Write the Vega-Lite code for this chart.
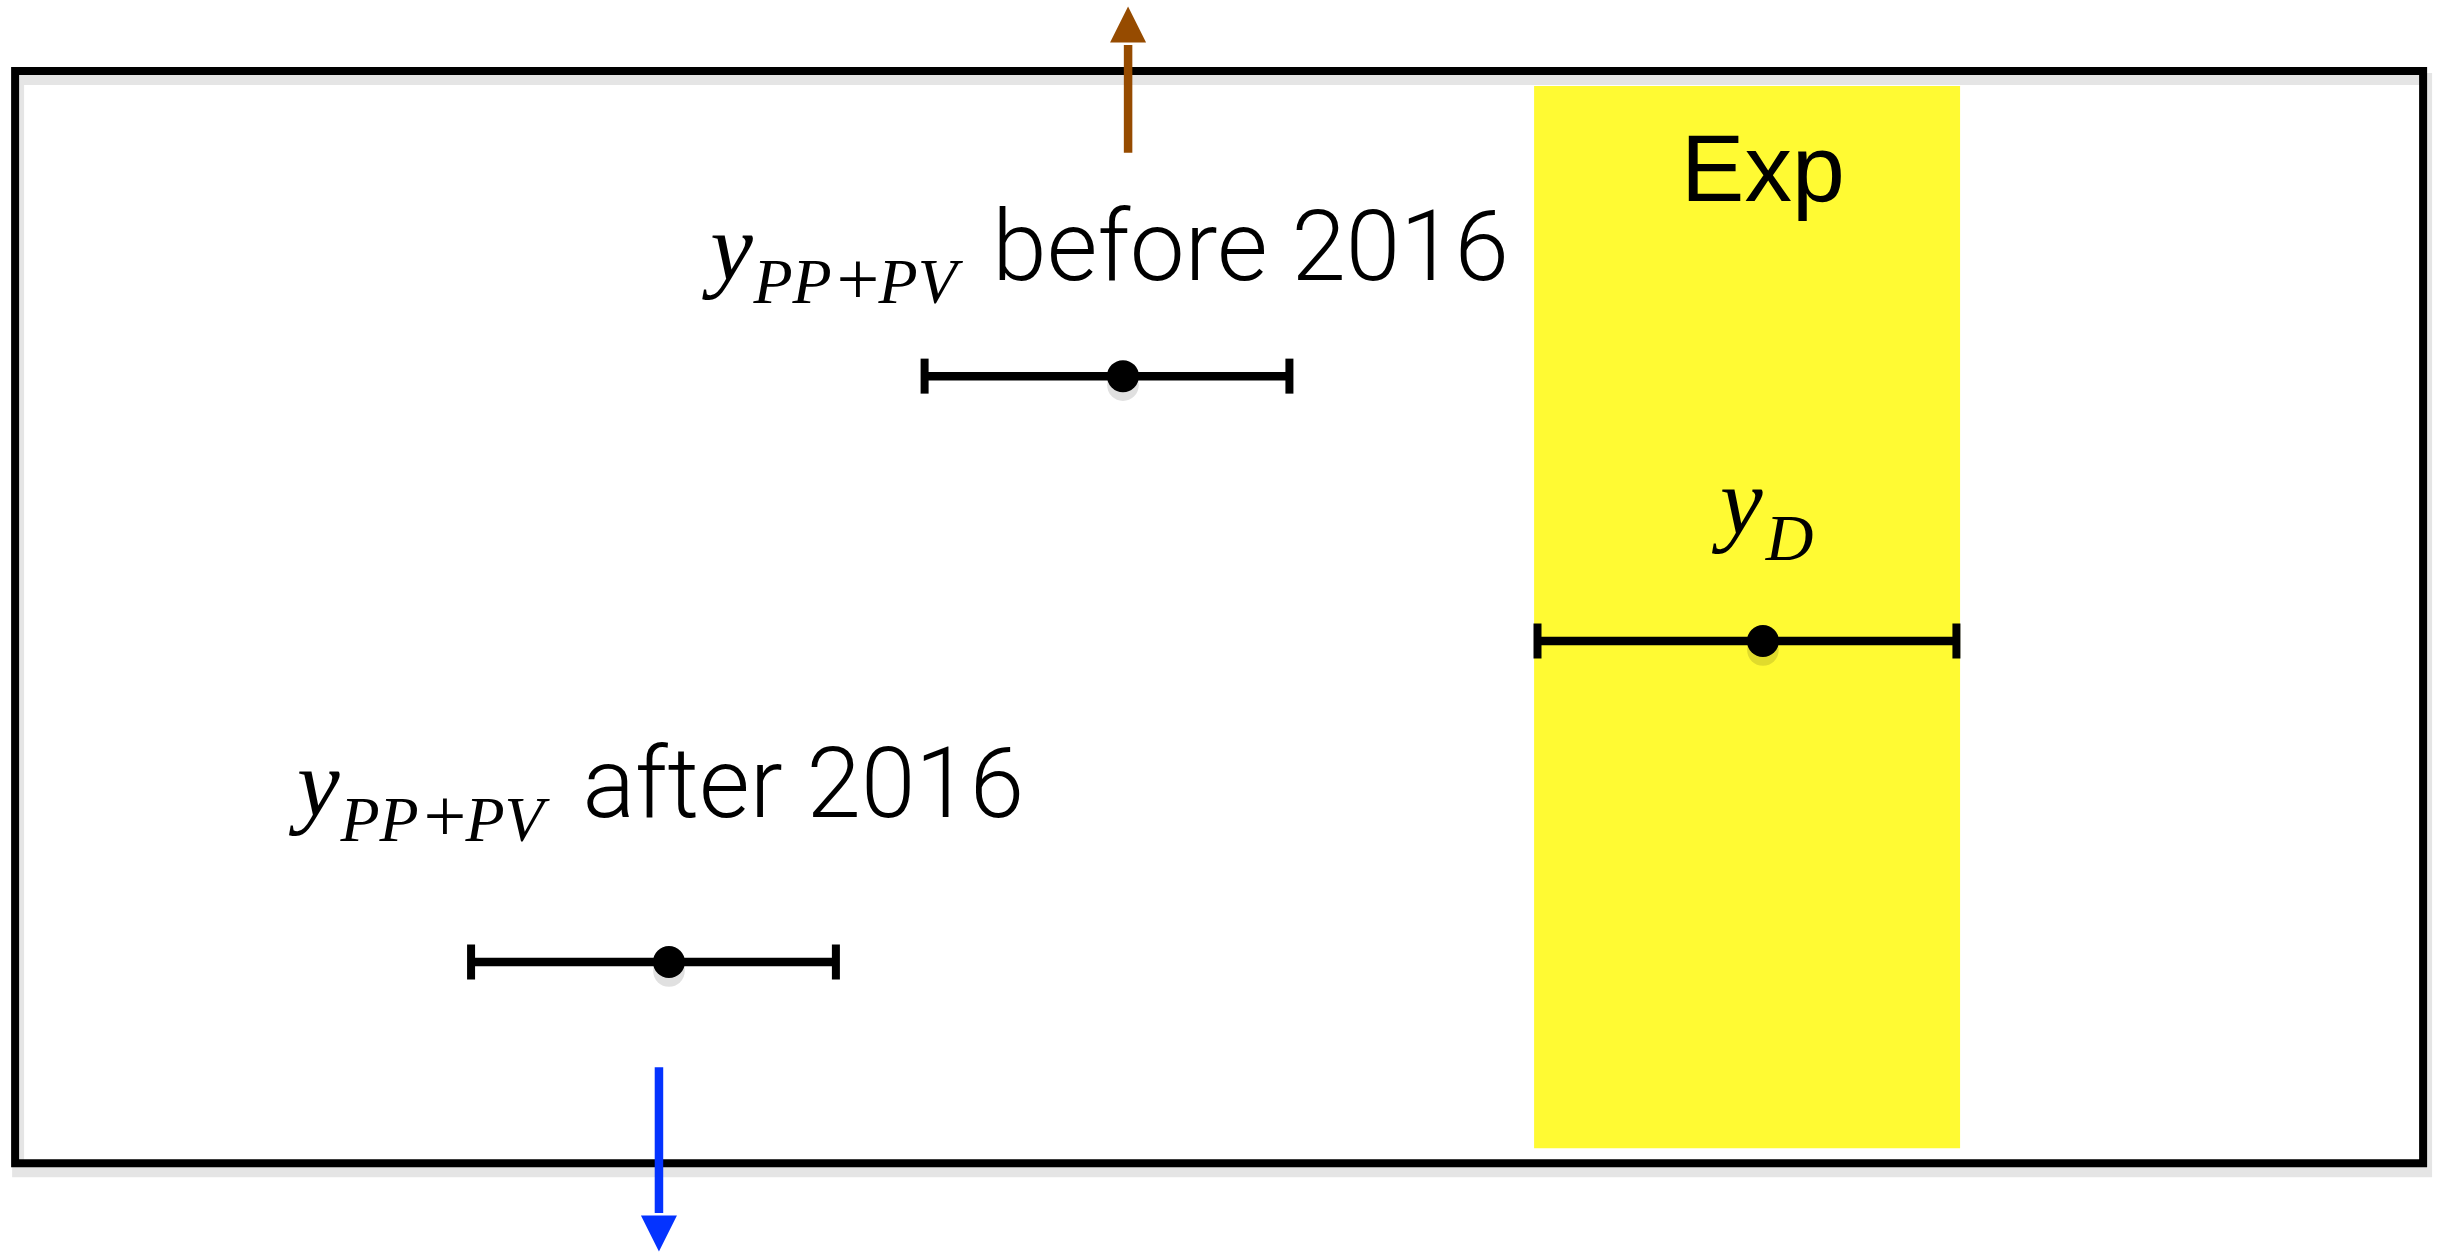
{
  "$schema": "https://vega.github.io/schema/vega-lite/v6.json",
  "width": 2437,
  "height": 1252,
  "autosize": {"type": "fit", "contains": "padding"},
  "padding": 0,
  "background": "white",
  "config": {"view": {"stroke": null}},
  "datasets": {
    "band": [{"name": "Exp", "x": 62.95, "x2": 80.43, "y": 93.13, "y2": 8.15}],
    "frame": [{"x": 0.62, "x2": 99.43, "y": 94.33, "y2": 6.95}],
    "bars": [
      {"label": "before 2016", "lo": 37.94, "hi": 52.91, "mid": 46.08, "y": 69.91},
      {"label": "D", "lo": 63.09, "hi": 80.28, "mid": 72.34, "y": 48.72},
      {"label": "after 2016", "lo": 19.33, "hi": 34.30, "mid": 27.45, "y": 23.04}
    ],
    "arrows": [
      {"dir": "up", "x": 46.29, "base": 87.78, "head": 96.41, "headMid": 98.04},
      {"dir": "down", "x": 27.04, "base": 14.62, "head": 2.96, "headMid": 1.32}
    ],
    "labels": [
      {"role": "sym", "x": 29.14, "y": 77.64, "text": "y"},
      {"role": "sub", "x": 30.92, "y": 75.80, "text": "PP"},
      {"role": "op", "x": 35.20, "y": 75.72, "text": "+"},
      {"role": "sub", "x": 36.05, "y": 75.80, "text": "PV"},
      {"role": "word", "x": 40.72, "y": 77.64, "text": "before 2016"},
      {"role": "sym", "x": 12.19, "y": 34.74, "text": "y"},
      {"role": "sub", "x": 13.97, "y": 32.75, "text": "PP"},
      {"role": "op", "x": 18.26, "y": 32.75, "text": "+"},
      {"role": "sub", "x": 19.10, "y": 32.75, "text": "PV"},
      {"role": "word", "x": 23.90, "y": 34.66, "text": "after 2016"},
      {"role": "sym", "x": 70.58, "y": 57.27, "text": "y"},
      {"role": "subD", "x": 72.46, "y": 55.19, "text": "D"},
      {"role": "title", "x": 72.34, "y": 83.95, "text": "Exp"}
    ]
  },
  "layer": [
    {
      "data": {"name": "band"},
      "mark": {"type": "rect", "fill": "#FFFA33"},
      "encoding": {
        "x": {"field": "x", "type": "quantitative", "scale": {"domain": [0, 100], "nice": false, "zero": false}, "axis": null},
        "x2": {"field": "x2"},
        "y": {"field": "y", "type": "quantitative", "scale": {"domain": [0, 100], "nice": false, "zero": false}, "axis": null},
        "y2": {"field": "y2"}
      }
    },
    {
      "data": {"name": "frame"},
      "mark": {"type": "rect", "fillOpacity": 0, "stroke": "#000000", "strokeOpacity": 0.1, "strokeWidth": 12, "xOffset": 3, "x2Offset": 3, "yOffset": 8, "y2Offset": 8},
      "encoding": {
        "x": {"field": "x", "type": "quantitative", "scale": {"domain": [0, 100], "nice": false, "zero": false}, "axis": null},
        "x2": {"field": "x2"},
        "y": {"field": "y", "type": "quantitative", "scale": {"domain": [0, 100], "nice": false, "zero": false}, "axis": null},
        "y2": {"field": "y2"}
      }
    },
    {
      "data": {"name": "frame"},
      "mark": {"type": "rect", "fillOpacity": 0, "stroke": "#000000", "strokeWidth": 8},
      "encoding": {
        "x": {"field": "x", "type": "quantitative", "scale": {"domain": [0, 100], "nice": false, "zero": false}, "axis": null},
        "x2": {"field": "x2"},
        "y": {"field": "y", "type": "quantitative", "scale": {"domain": [0, 100], "nice": false, "zero": false}, "axis": null},
        "y2": {"field": "y2"}
      }
    },
    {
      "data": {"name": "bars"},
      "mark": {"type": "circle", "size": 1000, "color": "#000000", "opacity": 0.12, "yOffset": 9},
      "encoding": {
        "x": {"field": "mid", "type": "quantitative", "scale": {"domain": [0, 100], "nice": false, "zero": false}, "axis": null},
        "y": {"field": "y", "type": "quantitative", "scale": {"domain": [0, 100], "nice": false, "zero": false}, "axis": null}
      }
    },
    {
      "data": {"name": "bars"},
      "mark": {"type": "rule", "color": "#000000", "strokeWidth": 8.5, "strokeCap": "butt"},
      "encoding": {
        "x": {"field": "lo", "type": "quantitative", "scale": {"domain": [0, 100], "nice": false, "zero": false}, "axis": null},
        "x2": {"field": "hi"},
        "y": {"field": "y", "type": "quantitative", "scale": {"domain": [0, 100], "nice": false, "zero": false}, "axis": null}
      }
    },
    {
      "data": {"name": "bars"},
      "mark": {"type": "tick", "orient": "vertical", "size": 35, "thickness": 8, "color": "#000000", "opacity": 1},
      "encoding": {
        "x": {"field": "lo", "type": "quantitative", "scale": {"domain": [0, 100], "nice": false, "zero": false}, "axis": null},
        "y": {"field": "y", "type": "quantitative", "scale": {"domain": [0, 100], "nice": false, "zero": false}, "axis": null}
      }
    },
    {
      "data": {"name": "bars"},
      "mark": {"type": "tick", "orient": "vertical", "size": 35, "thickness": 8, "color": "#000000", "opacity": 1},
      "encoding": {
        "x": {"field": "hi", "type": "quantitative", "scale": {"domain": [0, 100], "nice": false, "zero": false}, "axis": null},
        "y": {"field": "y", "type": "quantitative", "scale": {"domain": [0, 100], "nice": false, "zero": false}, "axis": null}
      }
    },
    {
      "data": {"name": "bars"},
      "mark": {"type": "circle", "size": 1024, "color": "#000000", "opacity": 1},
      "encoding": {
        "x": {"field": "mid", "type": "quantitative", "scale": {"domain": [0, 100], "nice": false, "zero": false}, "axis": null},
        "y": {"field": "y", "type": "quantitative", "scale": {"domain": [0, 100], "nice": false, "zero": false}, "axis": null}
      }
    },
    {
      "data": {"name": "arrows"},
      "mark": {"type": "rule", "strokeWidth": 8.5, "strokeCap": "butt"},
      "encoding": {
        "x": {"field": "x", "type": "quantitative", "scale": {"domain": [0, 100], "nice": false, "zero": false}, "axis": null},
        "y": {"field": "base", "type": "quantitative", "scale": {"domain": [0, 100], "nice": false, "zero": false}, "axis": null},
        "y2": {"field": "head"},
        "color": {"field": "dir", "type": "nominal", "scale": {"domain": ["up", "down"], "range": ["#964B00", "#0433FF"]}, "legend": null}
      }
    },
    {
      "data": {"name": "arrows"},
      "mark": {"type": "point", "filled": true, "size": 1296, "opacity": 1, "strokeWidth": 0},
      "encoding": {
        "x": {"field": "x", "type": "quantitative", "scale": {"domain": [0, 100], "nice": false, "zero": false}, "axis": null},
        "y": {"field": "headMid", "type": "quantitative", "scale": {"domain": [0, 100], "nice": false, "zero": false}, "axis": null},
        "color": {"field": "dir", "type": "nominal", "scale": {"domain": ["up", "down"], "range": ["#964B00", "#0433FF"]}, "legend": null},
        "shape": {"field": "dir", "type": "nominal", "scale": {"domain": ["up", "down"], "range": ["M0,-1L1,1L-1,1Z", "M0,1L1,-1L-1,-1Z"]}, "legend": null}
      }
    },
    {
      "data": {"name": "labels"},
      "transform": [{"filter": "datum.role === 'sym'"}],
      "mark": {"type": "text", "font": "Liberation Serif", "fontStyle": "italic", "fontSize": 96, "align": "left", "baseline": "alphabetic", "color": "#000000"},
      "encoding": {
        "x": {"field": "x", "type": "quantitative", "scale": {"domain": [0, 100], "nice": false, "zero": false}, "axis": null},
        "y": {"field": "y", "type": "quantitative", "scale": {"domain": [0, 100], "nice": false, "zero": false}, "axis": null},
        "text": {"field": "text"}
      }
    },
    {
      "data": {"name": "labels"},
      "transform": [{"filter": "datum.role === 'sub'"}],
      "mark": {"type": "text", "font": "Liberation Serif", "fontStyle": "italic", "fontSize": 64, "align": "left", "baseline": "alphabetic", "color": "#000000"},
      "encoding": {
        "x": {"field": "x", "type": "quantitative", "scale": {"domain": [0, 100], "nice": false, "zero": false}, "axis": null},
        "y": {"field": "y", "type": "quantitative", "scale": {"domain": [0, 100], "nice": false, "zero": false}, "axis": null},
        "text": {"field": "text"}
      }
    },
    {
      "data": {"name": "labels"},
      "transform": [{"filter": "datum.role === 'subD'"}],
      "mark": {"type": "text", "font": "Liberation Serif", "fontStyle": "italic", "fontSize": 66, "align": "left", "baseline": "alphabetic", "color": "#000000"},
      "encoding": {
        "x": {"field": "x", "type": "quantitative", "scale": {"domain": [0, 100], "nice": false, "zero": false}, "axis": null},
        "y": {"field": "y", "type": "quantitative", "scale": {"domain": [0, 100], "nice": false, "zero": false}, "axis": null},
        "text": {"field": "text"}
      }
    },
    {
      "data": {"name": "labels"},
      "transform": [{"filter": "datum.role === 'op'"}],
      "mark": {"type": "text", "font": "Liberation Serif", "fontSize": 76, "align": "center", "baseline": "alphabetic", "color": "#000000"},
      "encoding": {
        "x": {"field": "x", "type": "quantitative", "scale": {"domain": [0, 100], "nice": false, "zero": false}, "axis": null},
        "y": {"field": "y", "type": "quantitative", "scale": {"domain": [0, 100], "nice": false, "zero": false}, "axis": null},
        "text": {"field": "text"}
      }
    },
    {
      "data": {"name": "labels"},
      "transform": [{"filter": "datum.role === 'word'"}],
      "mark": {"type": "text", "font": "Roboto", "fontWeight": 300, "fontSize": 98, "align": "left", "baseline": "alphabetic", "color": "#000000"},
      "encoding": {
        "x": {"field": "x", "type": "quantitative", "scale": {"domain": [0, 100], "nice": false, "zero": false}, "axis": null},
        "y": {"field": "y", "type": "quantitative", "scale": {"domain": [0, 100], "nice": false, "zero": false}, "axis": null},
        "text": {"field": "text"}
      }
    },
    {
      "data": {"name": "labels"},
      "transform": [{"filter": "datum.role === 'title'"}],
      "mark": {"type": "text", "font": "Liberation Sans", "fontSize": 95, "align": "center", "baseline": "alphabetic", "color": "#000000"},
      "encoding": {
        "x": {"field": "x", "type": "quantitative", "scale": {"domain": [0, 100], "nice": false, "zero": false}, "axis": null},
        "y": {"field": "y", "type": "quantitative", "scale": {"domain": [0, 100], "nice": false, "zero": false}, "axis": null},
        "text": {"field": "text"}
      }
    }
  ]
}
